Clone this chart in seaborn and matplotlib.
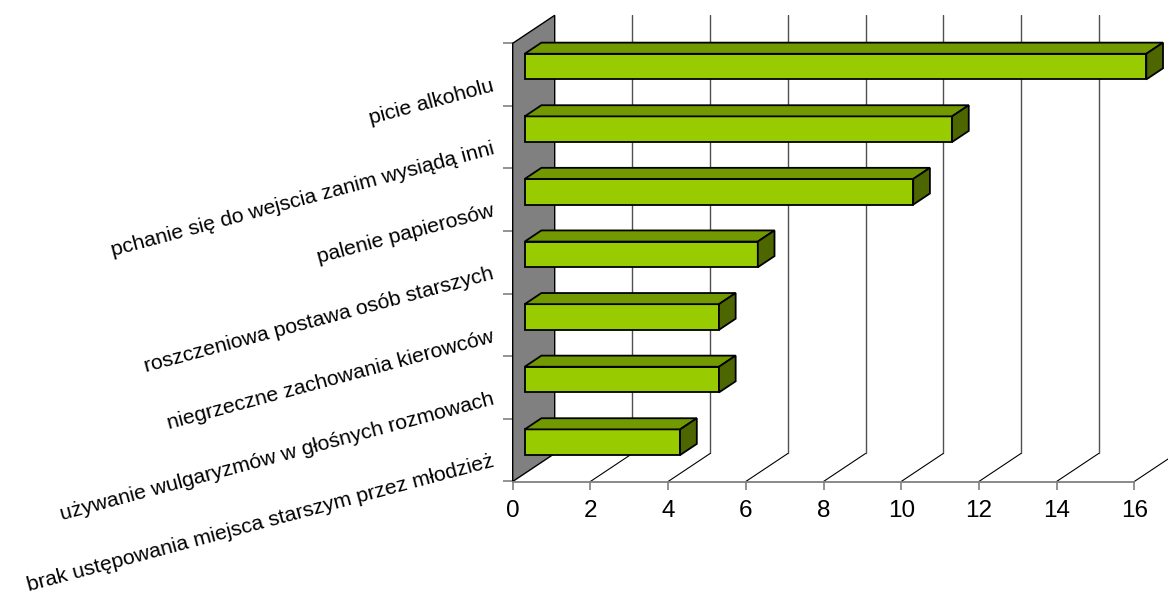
import matplotlib
matplotlib.use("Agg")
import matplotlib.pyplot as plt
import matplotlib.transforms as mtransforms
from matplotlib.patches import Polygon
import seaborn as sns

categories = [
    "picie alkoholu",
    "pchanie się do wejscia zanim wysiądą inni",
    "palenie papierosów",
    "roszczeniowa postawa osób starszych",
    "niegrzeczne zachowania kierowców",
    "używanie wulgaryzmów w głośnych rozmowach",
    "brak ustępowania miejsca starszym przez młodzież",
]
values = [16, 11, 10, 6, 5, 5, 4]
xticks = [0, 2, 4, 6, 8, 10, 12, 14, 16]

sns.set_theme(style="white")
plt.rcParams["font.family"] = ["Liberation Sans", "DejaVu Sans"]

W_PX, H_PX = 1168, 595
fig = plt.figure(figsize=(W_PX / 100, H_PX / 100), dpi=100)

# front plane in pixels
x0_px, x16_px = 512.7, 1134.3
ytop_px, ybot_px = 43.3, 481.5
ppu = (x16_px - x0_px) / 16.0
ppc = (ybot_px - ytop_px) / 7.0
DXp, DYp = 42.0, 28.0           # depth offset in pixels
DX = DXp / ppu                  # depth in data units (x)
DY = DYp / ppc                  # depth in category units (y)

ax_top_px = 15.0
xmax = (W_PX - x0_px) / ppu
ymin = -0.5 - (ytop_px - ax_top_px) / ppc
ax = fig.add_axes([x0_px / W_PX, (H_PX - ybot_px) / H_PX,
                   (W_PX - x0_px) / W_PX, (ybot_px - ax_top_px) / H_PX])

sns.barplot(x=values, y=categories, orient="h", width=0.41, color="#99CC00",
            saturation=1, edgecolor="black", linewidth=1.3, ax=ax, zorder=4)

ax.set_xlim(0, xmax)
ax.set_ylim(6.5, ymin)

# wall
wall = Polygon([(0, 6.5), (0, -0.5), (DX, -0.5 - DY), (DX, 6.5 - DY)],
               closed=True, facecolor="#808080", edgecolor="black",
               linewidth=1.0, zorder=1, clip_on=False)
ax.add_patch(wall)

# back gridlines and floor diagonals
for v in xticks[1:]:
    ax.plot([v + DX, v + DX], [6.5 - DY, -0.5 - DY], color="#505050",
            lw=1.0, zorder=1.5)
    ax.plot([v, v + DX], [6.5, 6.5 - DY], color="black", lw=0.8, zorder=1.5)

# 3D bar faces
f_front = 12.0 / DXp
f_depth = 16.7 / DXp
for p in ax.patches:
    if p is wall:
        continue
    x0, y0 = p.get_x(), p.get_y()
    w, h = p.get_width(), p.get_height()
    x0 += f_front * DX
    y0 -= f_front * DY
    p.set_x(x0)
    p.set_y(y0)
    ddx, ddy = f_depth * DX, f_depth * DY
    top = Polygon([(x0, y0), (x0 + w, y0), (x0 + w + ddx, y0 - ddy),
                   (x0 + ddx, y0 - ddy)], closed=True, facecolor="#739900",
                  edgecolor="black", linewidth=1.3, zorder=4)
    side = Polygon([(x0 + w, y0), (x0 + w, y0 + h), (x0 + w + ddx, y0 + h - ddy),
                    (x0 + w + ddx, y0 - ddy)], closed=True, facecolor="#4D6600",
                   edgecolor="black", linewidth=1.3, zorder=4)
    ax.add_patch(top)
    ax.add_patch(side)

# axes styling
for s in ["top", "right", "left"]:
    ax.spines[s].set_visible(False)
ax.spines["bottom"].set_visible(True)
ax.spines["bottom"].set_bounds(0, 16)
ax.spines["bottom"].set_color("#808080")
ax.spines["bottom"].set_linewidth(1.3)

ax.set_xticks(xticks)
ax.set_xticklabels([str(t) for t in xticks])
ax.tick_params(axis="x", bottom=True, length=6, width=1.2, color="#808080",
               labelsize=17.5, pad=7, labelcolor="black")

bounds = [i - 0.5 for i in range(len(categories) + 1)]
ax.set_yticks(bounds)
ax.set_yticklabels([""] * len(bounds))
ax.tick_params(axis="y", left=True, length=7.2, width=1.2, color="#808080")
ax.set_xlabel("")
ax.set_ylabel("")
ax.grid(False)

off = mtransforms.offset_copy(ax.transData, fig=fig, x=-19, y=-11, units="dots")
for i, c in enumerate(categories):
    ax.text(0, i, c, transform=off, ha="right", va="center", rotation=15,
            rotation_mode="anchor", fontsize=15.3, color="black", clip_on=False)

fig.savefig("out.png", dpi=100)
